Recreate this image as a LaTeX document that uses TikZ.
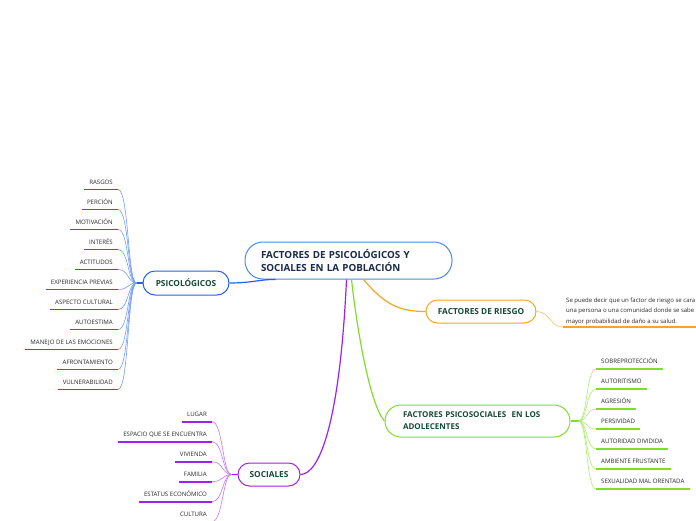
\documentclass[tikz,border=0pt]{standalone}
\usepackage{fontspec}
\setmainfont{Open Sans}
\definecolor{azulc}{RGB}{74,140,222}
\definecolor{azul}{RGB}{36,96,238}
\definecolor{azulh}{RGB}{115,155,245}
\definecolor{naranja}{RGB}{245,166,35}
\definecolor{lima}{RGB}{126,222,40}
\definecolor{limah}{RGB}{170,236,105}
\definecolor{morado}{RGB}{160,32,235}
\definecolor{moradoh}{RGB}{195,120,245}
\definecolor{tinta}{RGB}{27,42,73}
\definecolor{verdet}{RGB}{24,72,56}
\definecolor{gris}{RGB}{40,40,40}
\tikzset{
  tema/.style={draw, line width=1pt, fill=white, text=verdet, font=\bfseries\fontsize{8.3}{9}\selectfont},
  hoja/.style={text=gris, font=\fontsize{6.1}{7}\selectfont, text height=5pt, text depth=2pt, inner xsep=5pt, inner ysep=3pt},
  raya/.style={line width=1.6pt},
  rama/.style={line width=0.6pt},
  enlace/.style={line width=1.2pt}
}
\begin{document}
\begin{tikzpicture}[x=1pt,y=-1pt]
  \clip (0,0) rectangle (696,520);

  % Tema central
  \node[tema, draw=azulc, text=tinta, rounded corners=18pt, minimum width=207pt, minimum height=37pt,
        text width=175pt, align=left, font=\bfseries\fontsize{9.8}{13}\selectfont] (central) at (348.5,260.5)
        {FACTORES DE PSICOLÓGICOS Y\\SOCIALES EN LA POBLACIÓN};

  % Ramas principales
  \node[tema, draw=azul, rounded corners=12pt, minimum width=86pt, minimum height=24pt] (psi) at (186,283) {PSICOLÓGICOS};
  \node[tema, draw=naranja, rounded corners=11.5pt, minimum width=110pt, minimum height=23pt] (riesgo) at (481,311.5) {FACTORES DE RIESGO};
  \node[tema, draw=lima, rounded corners=16pt, minimum width=185pt, minimum height=32pt,
        text width=149pt, align=left, font=\bfseries\fontsize{8}{12}\selectfont] (psicosoc) at (477.5,421)
        {FACTORES PSICOSOCIALES \ EN LOS\\ADOLECENTES};
  \node[tema, draw=morado, rounded corners=11.5pt, minimum width=62pt, minimum height=23pt] (soc) at (269,474.5) {SOCIALES};

  \draw[enlace, azul] (psi.east) .. controls (252,283) and (262,279) .. ([xshift=-73pt]central.south);
  \draw[enlace, naranja] ([xshift=15pt]central.south) .. controls (385,305) and (400,311.5) .. (riesgo.west);
  \draw[enlace, lima] ([xshift=3pt]central.south) .. controls (357,330) and (370,405) .. (psicosoc.west);
  \draw[enlace, morado] ([xshift=-2pt]central.south) .. controls (340,420) and (320,474.5) .. (soc.east);

  % Hojas de PSICOLÓGICOS
  \coordinate (hpsi) at ([xshift=-6pt]psi.west);
  \draw[enlace, azul] (hpsi) -- (psi.west);
  \foreach \nom/\txt [count=\i from 0] in {p1/RASGOS, p2/PERCIÓN, p3/MOTIVACIÓN, p4/INTERÉS, p5/ACTITUDOS,
      p6/EXPERIENCIA PREVIAS, p7/ASPECTO CULTURAL, p8/AUTOESTIMA, p9/MANEJO DE LAS EMOCIONES,
      p10/AFRONTAMIENTO, p11/VULNERABILIDAD} {
    \node[hoja, anchor=south east] (\nom) at (118,189.5+20*\i) {\txt};
    \draw[raya, azul] (\nom.south west) -- (\nom.south east);
    \draw[rama, azulh] (\nom.south east) .. controls +(11,0) and +(-9,0) .. (hpsi);
  }

  % Descripción de FACTORES DE RIESGO
  \coordinate (driesgo) at (563,327);
  \draw[rama, naranja!70] (riesgo.east) .. controls (550,311.5) and (550,327) .. (driesgo);
  \draw[raya, naranja] (driesgo) -- (700,327);
  \node[anchor=south west, text=gris, align=left, inner xsep=3pt, inner ysep=2pt,
        font=\fontsize{6}{10.5}\selectfont] (desc) at (driesgo)
        {Se puede decir que un factor de riesgo se cara\\una persona o una comunidad donde se sabe\\mayor probabilidad de daño a su salud.};

  % Hojas de FACTORES PSICOSOCIALES
  \coordinate (hpsicosoc) at ([xshift=8pt]psicosoc.east);
  \draw[enlace, lima] (psicosoc.east) -- (hpsicosoc);
  \foreach \nom/\txt [count=\i from 0] in {s1/SOBREPROTECCIÓN, s2/AUTORITISMO, s3/AGRESIÓN, s4/PERSIVIDAD,
      s5/AUTORIDAD DIVIDIDA, s6/AMBIENTE FRUSTANTE, s7/SEXUALIDAD MAL ORENTADA} {
    \node[hoja, anchor=south west] (\nom) at (596,369+20*\i) {\txt};
    \draw[raya, lima] (\nom.south west) -- (\nom.south east);
    \draw[rama, limah] (\nom.south west) .. controls +(-10,0) and +(9,0) .. (hpsicosoc);
  }

  % Hojas de SOCIALES
  \coordinate (hsoc) at ([xshift=-6pt]soc.west);
  \draw[enlace, morado] (hsoc) -- (soc.west);
  \foreach \nom/\txt [count=\i from 0] in {c1/LUGAR, c2/ESPACIO QUE SE ENCUENTRA, c3/VIVIENDA, c4/FAMILIA,
      c5/ESTATUS ECONÓMICO, c6/CULTURA} {
    \node[hoja, anchor=south east] (\nom) at (212,421.7+20*\i) {\txt};
    \draw[raya, morado] (\nom.south west) -- (\nom.south east);
    \draw[rama, moradoh] (\nom.south east) .. controls +(11,0) and +(-9,0) .. (hsoc);
  }
\end{tikzpicture}
\end{document}
